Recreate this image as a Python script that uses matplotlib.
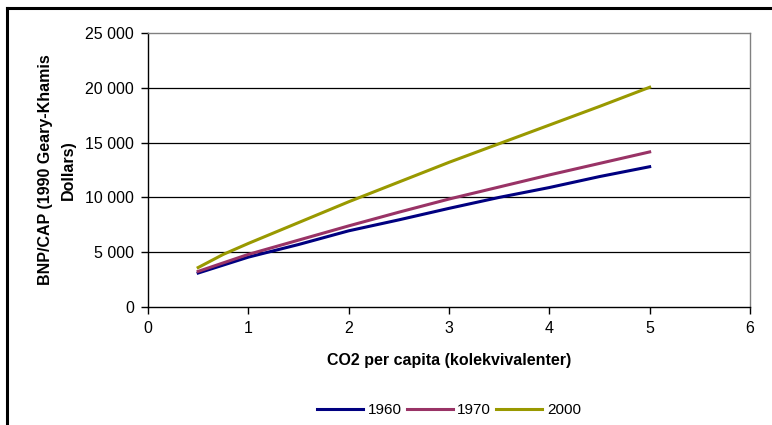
import matplotlib
matplotlib.use("Agg")
import matplotlib.pyplot as plt
from matplotlib.ticker import FuncFormatter
from matplotlib.lines import Line2D

plt.rcParams['font.family'] = ['Liberation Sans', 'DejaVu Sans']

# values
co2_1960 = [0.5, 1.0, 1.5, 2.0, 2.5, 3.0, 3.5, 4.0, 4.5, 5.0]
gdp_1960 = [3100, 4550, 5700, 6950, 7950, 9000, 10000, 10900, 11900, 12800]

co2_1970 = [0.5, 1.0, 1.5, 2.0, 2.5, 3.0, 3.5, 4.0, 4.5, 5.0]
gdp_1970 = [3250, 4800, 6100, 7400, 8650, 9850, 10950, 12050, 13100, 14150]

co2_2000 = [0.5, 0.75, 1.0, 1.5, 2.0, 2.5, 3.0, 3.5, 4.0, 4.5, 5.0]
gdp_2000 = [3600, 4800, 5800, 7700, 9600, 11400, 13200, 14900, 16600, 18300, 20050]

series_labels = ["1960", "1970", "2000"]
series_colors = ["#000080", "#993366", "#999900"]

fig = plt.figure(figsize=(7.72, 4.25), dpi=100)
ax = fig.add_axes([148 / 772, 1 - 307 / 425, (750 - 148) / 772, (307 - 33) / 425])

# outer frame of the chart object
fig.add_artist(Line2D([7 / 772, 1.0], [1 - 8 / 425, 1 - 8 / 425], color="black", lw=2.2,
                      transform=fig.transFigure))
fig.add_artist(Line2D([7 / 772, 7 / 772], [0.0, 1 - 8 / 425], color="black", lw=2.2,
                      transform=fig.transFigure))

for y in [5000, 10000, 15000, 20000]:
    ax.axhline(y, color="black", lw=0.9, zorder=1)

ax.plot(co2_1960, gdp_1960, color=series_colors[0], lw=2.2, label=series_labels[0], zorder=3)
ax.plot(co2_1970, gdp_1970, color=series_colors[1], lw=2.2, label=series_labels[1], zorder=3)
ax.plot(co2_2000, gdp_2000, color=series_colors[2], lw=2.2, label=series_labels[2], zorder=3)

ax.set_xlim(0, 6)
ax.set_ylim(0, 25000)
ax.set_xticks(range(0, 7))
ax.set_yticks(range(0, 25001, 5000))
ax.yaxis.set_major_formatter(FuncFormatter(lambda v, p: f"{int(v):,}".replace(",", " ")))

for side in ["top", "right"]:
    ax.spines[side].set_color("#808080")
    ax.spines[side].set_linewidth(1.0)
for side in ["left", "bottom"]:
    ax.spines[side].set_color("black")
    ax.spines[side].set_linewidth(1.0)

ax.tick_params(axis="both", direction="out", length=5, width=1, labelsize=11.5,
               colors="black", pad=5)

ax.set_xlabel("CO2 per capita (kolekvivalenter)", fontsize=11.5, fontweight="bold", labelpad=12)
ax.set_ylabel("BNP/CAP (1990 Geary-Khamis\nDollars)", fontsize=11.5, fontweight="bold",
              labelpad=7, linespacing=1.6)

ax.legend(loc="center", bbox_to_anchor=(449 / 772, 1 - 410 / 425), bbox_transform=fig.transFigure,
          ncol=3, frameon=False, fontsize=11, handlelength=3.0, handletextpad=0.3,
          columnspacing=0.35)

fig.savefig("out.png", dpi=100)
